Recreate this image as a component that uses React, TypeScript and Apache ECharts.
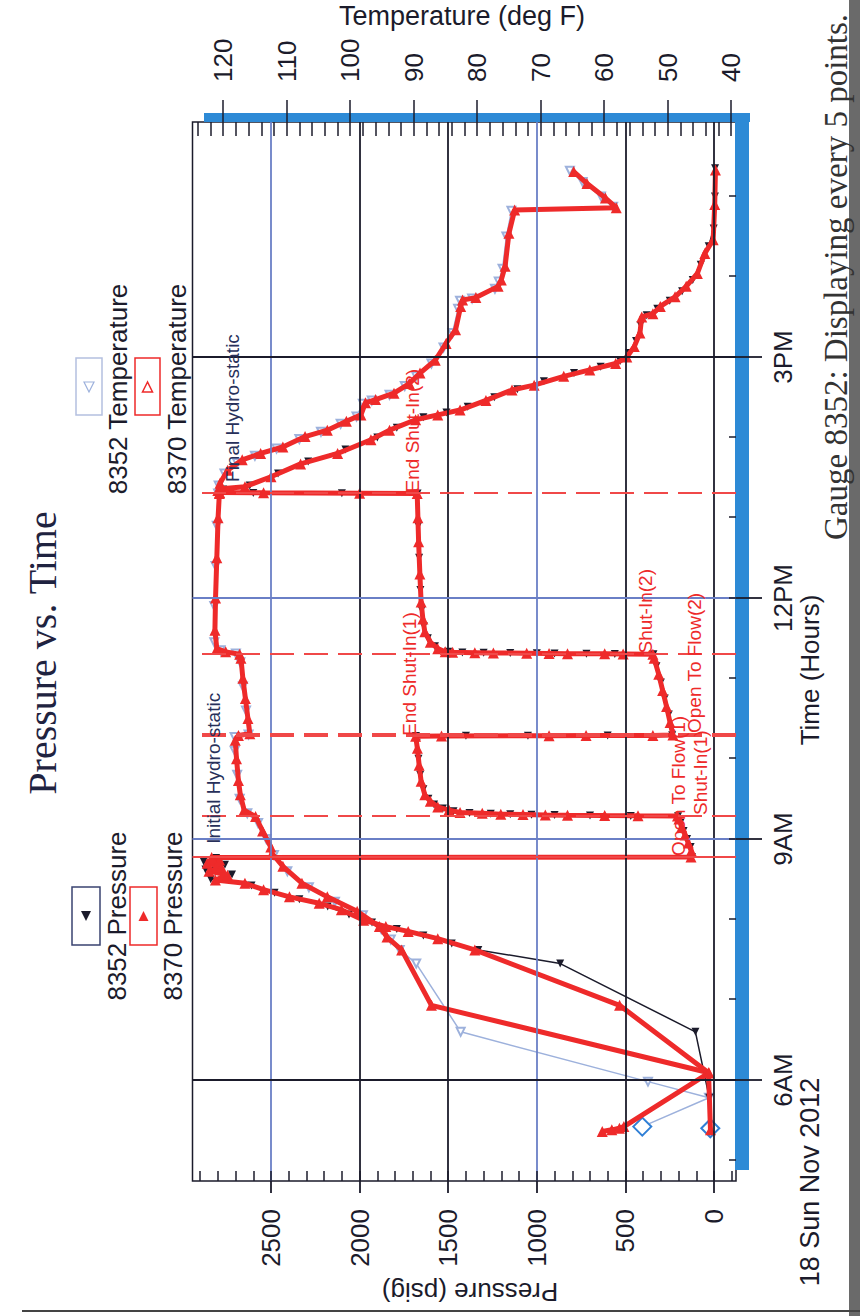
import React, { useEffect, useRef } from "react";
import * as echarts from "echarts";

// ---------- data ----------
const timeTicks = [6, 9, 12, 15];
const timeTickLabels = ["6AM", "9AM", "12PM", "3PM"];
const hourTicks = [5, 6, 7, 8, 9, 10, 11, 12, 13, 14, 15, 16, 17];
const pressureTicks = [0, 500, 1000, 1500, 2000, 2500];
const pressureMinorTicks = [-100, 0, 100, 200, 300, 400, 500, 600, 700, 800, 900, 1000, 1100, 1200, 1300, 1400, 1500, 1600, 1700, 1800, 1900, 2000, 2100, 2200, 2300, 2400, 2500, 2600, 2700, 2800, 2900];
const tempTicks = [40, 50, 60, 70, 80, 90, 100, 110, 120];
const tempMinorTicks = [40, 42, 44, 46, 48, 50, 52, 54, 56, 58, 60, 62, 64, 66, 68, 70, 72, 74, 76, 78, 80, 82, 84, 86, 88, 90, 92, 94, 96, 98, 100, 102, 104, 106, 108, 110, 112, 114, 116, 118, 120, 122, 124];

const timeMin = 4.743;
const timeMax = 17.926;
const pressureMin = -124;
const pressureMax = 2943;
const tempMin = 39.24;
const tempMax = 124.83;

// gauge 8370 pressure [hour, psig]
const p8370: [number, number][] = [
  [5.38, 20], [6.09, 31], [6.93, 533], [7.62, 1350], [7.76, 1559], [7.85, 1726], [7.91, 1852], [7.99, 1977], [8.12, 2103], [8.2, 2228], [8.28, 2396], [8.37, 2542], [8.45, 2647], [8.49, 2814], [8.55, 2745], [8.6, 2850], [8.65, 2780], [8.7, 2860], [8.74, 2790], [8.77, 2835],
  [8.776, 130], [8.85, 128], [8.95, 145], [9.05, 163], [9.15, 182], [9.25, 198], [9.286, 206],
  [9.289, 429], [9.292, 617], [9.296, 827], [9.3, 952], [9.305, 1078], [9.31, 1203], [9.32, 1308], [9.33, 1433], [9.36, 1496], [9.4, 1559], [9.47, 1601], [9.55, 1632], [9.72, 1653], [9.92, 1664], [10.13, 1674], [10.28, 1684],
  [10.283, 1538], [10.286, 931], [10.288, 722], [10.29, 345], [10.295, 232],
  [10.45, 248], [10.65, 268], [10.85, 290], [11.05, 312], [11.25, 338], [11.3, 345],
  [11.303, 513], [11.305, 617], [11.307, 827], [11.31, 931], [11.313, 1057], [11.316, 1245], [11.32, 1350], [11.325, 1475], [11.33, 1517], [11.37, 1559], [11.45, 1601], [11.58, 1632], [11.74, 1643], [11.95, 1653], [12.3, 1660], [12.7, 1667], [13.0, 1671], [13.3, 1675],
  [13.305, 2000], [13.31, 2542], [13.315, 2790], [13.34, 2800], [13.36, 2780], [13.386, 2647], [13.51, 2500], [13.67, 2333], [13.8, 2124], [13.97, 1936], [14.09, 1831], [14.22, 1684], [14.28, 1559], [14.34, 1433], [14.46, 1287], [14.59, 1140], [14.65, 1015], [14.76, 848], [14.84, 701], [14.92, 555], [15.0, 492], [15.13, 450], [15.3, 418], [15.5, 408], [15.54, 345], [15.63, 303], [15.75, 220], [15.88, 157], [16.04, 94], [16.29, 52], [16.46, 5], [16.9, -4], [17.33, -8],
];

// gauge 8352 pressure [hour, psig]
const p8352: [number, number][] = [
  [5.4, 21], [5.78, 27], [6.6, 105], [7.45, 868], [7.62, 1330], [7.7, 1480], [7.8, 1640], [7.88, 1790], [7.96, 1930], [8.06, 2060], [8.16, 2180], [8.25, 2340], [8.33, 2480], [8.42, 2610], [8.5, 2840], [8.56, 2720], [8.62, 2870], [8.68, 2760], [8.72, 2880], [8.765, 2810],
  [8.775, 125], [8.9, 132], [9.0, 152], [9.1, 172], [9.2, 190], [9.284, 203],
  [9.288, 470], [9.293, 700], [9.298, 900], [9.303, 1030], [9.308, 1150], [9.315, 1260], [9.325, 1380], [9.345, 1470], [9.38, 1530], [9.43, 1580], [9.5, 1612], [9.62, 1640], [9.8, 1658], [10.0, 1668], [10.2, 1678], [10.282, 1682],
  [10.285, 1400], [10.287, 1050], [10.289, 600], [10.292, 236],
  [10.55, 255], [10.75, 278], [10.95, 300], [11.15, 325], [11.3, 342],
  [11.302, 560], [11.306, 720], [11.309, 900], [11.312, 1000], [11.315, 1150], [11.319, 1300], [11.323, 1420], [11.33, 1500], [11.4, 1575], [11.5, 1615], [11.65, 1638], [11.85, 1650], [12.1, 1657], [12.5, 1664], [12.9, 1669], [13.3, 1673],
  [13.303, 2100], [13.307, 2600], [13.32, 2790], [13.35, 2770], [13.4, 2620], [13.55, 2460], [13.7, 2290], [13.85, 2080], [14.0, 1900], [14.12, 1790], [14.25, 1640], [14.31, 1510], [14.38, 1390], [14.5, 1240], [14.6, 1110], [14.7, 960], [14.8, 790], [14.88, 640], [14.95, 530], [15.05, 480], [15.2, 440], [15.4, 415], [15.52, 380], [15.6, 320], [15.7, 250], [15.82, 180], [15.96, 120], [16.15, 75], [16.38, 30], [16.6, 2], [17.0, -5], [17.35, -6],
];

// gauge 8370 temperature [hour, deg F]
const t8370: [number, number][] = [
  [5.36, 60.3], [5.38, 58.8], [5.4, 57.6], [5.42, 56.9], [6.09, 43.5], [6.93, 87.2], [7.62, 91.9], [7.78, 94.2], [7.91, 95.4], [8.1, 98.9], [8.28, 103.6], [8.45, 107.6], [8.66, 110.6], [8.82, 112.3],
  [8.9, 112.5], [9.1, 113.8], [9.28, 114.9], [9.36, 116.7], [9.55, 117.3], [9.73, 117.6], [10.0, 117.9], [10.23, 118.1], [10.29, 117.6], [10.31, 115.8], [10.5, 116.1], [10.75, 116.5], [11.0, 116.9], [11.25, 117.2], [11.3, 117.4],
  [11.33, 119.6], [11.37, 121.0], [11.6, 121.3], [12.0, 121.2], [12.5, 121.0], [13.0, 120.8], [13.3, 120.6], [13.43, 120.5], [13.59, 119.3], [13.72, 117.0], [13.8, 114.1], [13.88, 110.6], [14.01, 107.1], [14.09, 103.6], [14.2, 100.6], [14.28, 98.3], [14.43, 97.6], [14.47, 96.0], [14.55, 93.1], [14.67, 90.7], [14.8, 89.0], [14.96, 86.6], [15.17, 84.9], [15.34, 83.4], [15.63, 82.6], [15.71, 82.3], [15.74, 80.2], [15.88, 76.7], [15.96, 76.2], [16.13, 75.6], [16.54, 75.0], [16.83, 74.1],
  [16.86, 58.1], [16.98, 59.8], [17.16, 62.7], [17.31, 64.8],
];

// gauge 8352 temperature [hour, deg F]
const t8352: [number, number][] = [
  [5.42, 54.0], [5.78, 43.5], [5.98, 53.1], [6.6, 82.6], [7.45, 89.6], [7.62, 92.2], [7.75, 93.6], [7.88, 95.1], [8.05, 98.0], [8.22, 102.4], [8.4, 106.5], [8.6, 109.9], [8.8, 112.0],
  [9.0, 113.2], [9.2, 114.5], [9.32, 116.2], [9.5, 117.4], [9.8, 117.8], [10.1, 118.2], [10.27, 118.2], [10.3, 116.0], [10.6, 116.4], [10.9, 116.9], [11.2, 117.3], [11.31, 118.0],
  [11.35, 120.4], [11.45, 121.4], [11.9, 121.4], [12.4, 121.2], [12.9, 121.0], [13.3, 120.8], [13.4, 120.7], [13.55, 119.8], [13.68, 117.8], [13.77, 115.0], [13.86, 111.6], [13.98, 108.0], [14.07, 104.6], [14.17, 101.5], [14.26, 99.0], [14.42, 98.0], [14.46, 96.6], [14.53, 93.8], [14.64, 91.4], [14.76, 89.6], [14.92, 87.2], [15.12, 85.3], [15.3, 83.9], [15.6, 83.0], [15.7, 82.7], [15.73, 80.8], [15.85, 77.2], [15.94, 76.6], [16.1, 76.0], [16.5, 75.4], [16.82, 74.6],
  [16.87, 58.6], [17.0, 60.5], [17.18, 63.4], [17.32, 65.4],
];

// test events
const eventNames = ["Open To Flow(1)", "Shut-In(1)", "End Shut-In(1)", "Open To Flow(2)", "Shut-In(2)", "End Shut-In(2)"];
const eventTimes = [8.776, 9.286, 10.284, 10.306, 11.303, 13.307];
const eventDashed = [false, true, true, true, true, true];
const eventLabelTimes = [8.79, 9.3, 10.285, 10.32, 11.31, 13.315];
const eventLabelLevels = [203, 74, 1721, 113, 384, 1704];

const noteNames = ["Initial Hydro-static", "Final Hydro-static"];
const noteTimes = [8.94, 13.445];
const noteLevels = [2822, 2717];

const pressureGridColors = ["dark", "dark", "blue", "dark", "dark", "blue"];
const timeGridColors = ["dark", "blue", "blue", "dark"];

// ---------- styles ----------
const CHART_W = 1316;
const CHART_H = 860;
const ink = "#1b1b2b";
const gridBlue = "#6a7fc6";
const red = "#ee2a2a";
const lightBlue = "#9db1dc";
const barBlue = "#2d8ad6";
const diamondBlue = "#2f7fd6";
const navy = "#27305a";
const sans = '"Liberation Sans", Arial, sans-serif';
const serif = '"Liberation Serif", "Times New Roman", serif';

function withStartMarker(data: [number, number][]) {
  return data.map((d, i) =>
    i === 0
      ? { value: d, symbol: "emptyDiamond", symbolSize: 18, symbolRotate: 0, itemStyle: { color: diamondBlue, borderColor: diamondBlue, borderWidth: 2 } }
      : d
  );
}

function txt(x: number, y: number, text: string, font: string, fill: string, align: string, rotation = 0) {
  return {
    type: "text",
    x,
    y,
    rotation,
    z: 10,
    style: { text, font, fill, align, verticalAlign: "middle", textAlign: align, textVerticalAlign: "middle" },
  };
}

function buildOption() {
  const gridLines: any[] = [];
  pressureTicks.forEach((p, i) => {
    gridLines.push([
      { coord: [timeMin, p], lineStyle: { color: pressureGridColors[i] === "blue" ? gridBlue : ink, width: 1.8, type: "solid" } },
      { coord: [timeMax, p] },
    ]);
  });
  timeTicks.forEach((t, i) => {
    gridLines.push([
      { coord: [t, pressureMin], lineStyle: { color: timeGridColors[i] === "blue" ? gridBlue : ink, width: 1.8, type: "solid" } },
      { coord: [t, pressureMax] },
    ]);
  });
  eventTimes.forEach((t, i) => {
    gridLines.push([
      { coord: [t, pressureMin], lineStyle: { color: "#f04848", width: 2, type: eventDashed[i] ? [24, 10] : "solid" } },
      { coord: [t, pressureMax] },
    ]);
  });

  const labelPoints: any[] = [];
  eventNames.forEach((n, i) => {
    labelPoints.push({
      coord: [eventLabelTimes[i], eventLabelLevels[i]],
      symbol: "rect",
      symbolSize: 1,
      itemStyle: { color: "rgba(0,0,0,0)" },
      label: { show: true, formatter: n, position: "inside", align: "left", verticalAlign: "middle", color: red, fontSize: 19, fontFamily: sans },
    });
  });
  noteNames.forEach((n, i) => {
    labelPoints.push({
      coord: [noteTimes[i], noteLevels[i]],
      symbol: "rect",
      symbolSize: 1,
      itemStyle: { color: "rgba(0,0,0,0)" },
      label: { show: true, formatter: n, position: "inside", align: "left", verticalAlign: "middle", color: navy, fontSize: 19, fontFamily: sans },
    });
  });

  const tickLine = { color: ink, width: 1.5 };
  const hidden = { show: false };

  return {
    animation: false,
    backgroundColor: "#ffffff",
    grid: { left: 135, right: 122, top: 192.5, bottom: 124, show: true, borderColor: ink, borderWidth: 1.5, backgroundColor: "#fff" },
    xAxis: [
      {
        type: "value",
        min: timeMin,
        max: timeMax,
        position: "bottom",
        axisLine: { show: false, onZero: false },
        axisTick: { show: true, inside: true, length: 7, customValues: hourTicks, lineStyle: tickLine },
        axisLabel: {
          show: true,
          customValues: timeTicks,
          formatter: (v: number) => {
            const i = timeTicks.indexOf(v);
            return i >= 0 ? timeTickLabels[i] : "";
          },
          margin: 34,
          fontSize: 26,
          fontFamily: sans,
          color: ink,
        },
        splitLine: hidden,
        z: 5,
      },
      {
        type: "value",
        min: timeMin,
        max: timeMax,
        position: "bottom",
        axisLine: { show: false, onZero: false },
        axisTick: { show: true, inside: false, length: 26, customValues: timeTicks, lineStyle: { color: ink, width: 1.8 } },
        axisLabel: hidden,
        splitLine: hidden,
        z: 5,
      },
    ],
    yAxis: [
      {
        type: "value",
        min: pressureMin,
        max: pressureMax,
        position: "left",
        axisLine: { show: false, onZero: false },
        axisTick: { show: true, inside: true, length: 10, customValues: pressureMinorTicks, lineStyle: tickLine },
        axisLabel: {
          show: true,
          customValues: pressureTicks,
          formatter: (v: number) => String(v),
          margin: 28,
          fontSize: 26,
          fontFamily: sans,
          color: ink,
        },
        splitLine: hidden,
        z: 5,
      },
      {
        type: "value",
        min: tempMin,
        max: tempMax,
        position: "right",
        axisLine: { show: false, onZero: false },
        axisTick: { show: true, inside: false, length: 22, customValues: tempTicks, lineStyle: tickLine },
        axisLabel: { show: true, customValues: tempTicks, formatter: (v: number) => String(v), margin: 40, fontSize: 26, fontFamily: sans, color: ink },
        splitLine: hidden,
        z: 5,
      },
      {
        type: "value",
        min: tempMin,
        max: tempMax,
        position: "right",
        axisLine: { show: false, onZero: false },
        axisTick: { show: true, inside: true, length: 14, customValues: tempMinorTicks, lineStyle: tickLine },
        axisLabel: hidden,
        splitLine: hidden,
        z: 5,
      },
      {
        type: "value",
        min: pressureMin,
        max: pressureMax,
        position: "left",
        axisLine: { show: false, onZero: false },
        axisTick: { show: true, inside: false, length: 12, customValues: pressureTicks, lineStyle: { color: ink, width: 1.8 } },
        axisLabel: hidden,
        splitLine: hidden,
        z: 5,
      },
    ],
    series: [
      {
        name: "grid",
        type: "line",
        data: [],
        silent: true,
        z: 1,
        markLine: { silent: true, symbol: ["none", "none"], label: { show: false }, data: gridLines, animation: false },
        markPoint: { silent: true, data: labelPoints, animation: false },
      },
      {
        name: "8352 Temperature",
        type: "line",
        yAxisIndex: 1,
        data: withStartMarker(t8352),
        symbol: "emptyTriangle",
        symbolRotate: 90,
        symbolSize: 8,
        lineStyle: { color: lightBlue, width: 1.5 },
        itemStyle: { color: lightBlue, borderColor: lightBlue, borderWidth: 1.2 },
        z: 3,
      },
      {
        name: "8352 Pressure",
        type: "line",
        yAxisIndex: 0,
        data: withStartMarker(p8352),
        symbol: "triangle",
        symbolRotate: 90,
        symbolSize: 8,
        lineStyle: { color: ink, width: 1.5 },
        itemStyle: { color: ink },
        z: 3,
      },
      {
        name: "8370 Temperature",
        type: "line",
        yAxisIndex: 1,
        data: t8370,
        symbol: "triangle",
        symbolRotate: -90,
        symbolSize: 11,
        lineStyle: { color: red, width: 5 },
        itemStyle: { color: red },
        z: 4,
      },
      {
        name: "8370 Pressure",
        type: "line",
        yAxisIndex: 0,
        data: p8370,
        symbol: "triangle",
        symbolRotate: -90,
        symbolSize: 11,
        lineStyle: { color: red, width: 5 },
        itemStyle: { color: red },
        z: 4,
      },
    ],
    graphic: [
      // shadow bars round the plot
      { type: "rect", z: 1, shape: { x: 1194, y: 204, width: 9, height: 546 }, style: { fill: barBlue } },
      { type: "rect", z: 1, shape: { x: 146, y: 735, width: 1057, height: 14 }, style: { fill: barBlue } },
      // scan edge
      { type: "rect", z: 0, shape: { x: 0, y: 849, width: CHART_W, height: 11 }, style: { fill: "#6a6a6a" } },
      { type: "line", z: 0, shape: { x1: 5, y1: 22, x2: 5, y2: 860 }, style: { stroke: "#444", lineWidth: 2 } },
      // title
      txt(663, 42, "Pressure vs. Time", `40px ${serif}`, "#1f2340", "center"),
      // pressure legend
      { type: "rect", z: 10, shape: { x: 371, y: 72, width: 58, height: 28 }, style: { fill: "#fff", stroke: "#3a4370", lineWidth: 1.5 } },
      { type: "polygon", z: 10, shape: { points: [[395, 86], [405, 81], [405, 91]] }, style: { fill: ink } },
      txt(400, 117, "8352 Pressure", `26px ${sans}`, ink, "center"),
      { type: "rect", z: 10, shape: { x: 371, y: 130, width: 58, height: 27 }, style: { fill: "#fff", stroke: red, lineWidth: 1.5 } },
      { type: "polygon", z: 10, shape: { points: [[405, 143.5], [395, 138.5], [395, 148.5]] }, style: { fill: red } },
      txt(400, 173, "8370 Pressure", `26px ${sans}`, ink, "center"),
      // temperature legend
      { type: "rect", z: 10, shape: { x: 901, y: 76, width: 57, height: 26 }, style: { fill: "#fff", stroke: "#b4c0e0", lineWidth: 1.5 } },
      { type: "polygon", z: 10, shape: { points: [[924, 89], [934, 84], [934, 94]] }, style: { fill: "#fff", stroke: lightBlue, lineWidth: 1.2 } },
      txt(927, 118, "8352 Temperature", `26px ${sans}`, ink, "center"),
      { type: "rect", z: 10, shape: { x: 901, y: 135, width: 57, height: 25 }, style: { fill: "#fff", stroke: red, lineWidth: 1.5 } },
      { type: "polygon", z: 10, shape: { points: [[934, 147.5], [924, 142.5], [924, 152.5]] }, style: { fill: "#fff", stroke: red, lineWidth: 1.5 } },
      txt(927, 177, "8370 Temperature", `26px ${sans}`, ink, "center"),
      // axis names and notes
      txt(24, 470, "Pressure (psig)", `26px ${sans}`, ink, "center", Math.PI / 2),
      txt(1300, 462, "Temperature (deg F)", `27px ${sans}`, ink, "center", -Math.PI / 2),
      txt(646, 810, "Time (Hours)", `26px ${sans}`, ink, "center"),
      txt(134, 810, "18 Sun Nov 2012", `27px ${sans}`, ink, "center"),
      txt(776, 836, "Gauge 8352: Displaying every 5 points.", `33px ${serif}`, "#333", "left"),
    ],
  };
}

export default function App() {
  const ref = useRef<HTMLDivElement>(null);
  useEffect(() => {
    const el = ref.current;
    if (!el) return;
    const chart = echarts.init(el, undefined, { renderer: "svg" });
    chart.setOption(buildOption() as any);
    return () => chart.dispose();
  }, []);
  return (
    <div style={{ position: "fixed", left: 0, top: 0, width: 860, height: 1316, overflow: "hidden", background: "#fff" }}>
      <div
        ref={ref}
        style={{
          position: "absolute",
          left: 0,
          top: 0,
          width: CHART_W,
          height: CHART_H,
          transformOrigin: "0 0",
          transform: `translate(0px, ${CHART_W}px) rotate(-90deg)`,
        }}
      />
    </div>
  );
}
